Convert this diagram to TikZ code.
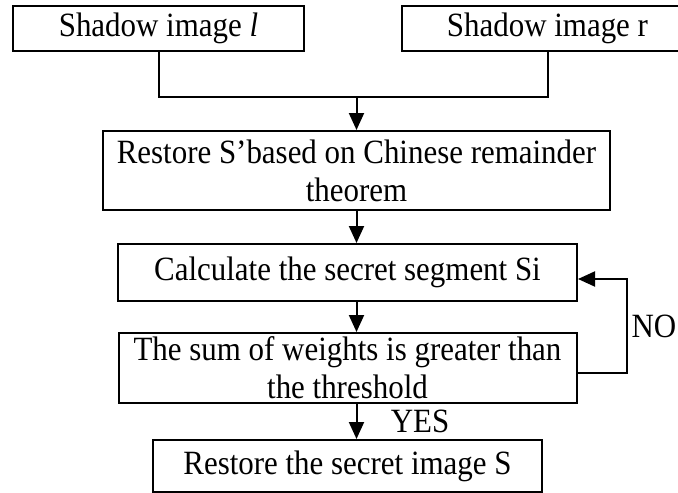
\documentclass[tikz,border=0pt]{standalone}
\usepackage{fontspec}
\setmainfont[FakeStretch=0.91]{Liberation Serif}
\usetikzlibrary{arrows.meta,positioning}

\begin{document}
\begin{tikzpicture}[x=1pt, y=-1pt, font=\fontsize{34}{38}\selectfont, line width=2pt]
\tikzstyle{box} = [rectangle, draw, align=center, inner sep=0pt]
\tikzstyle{arrow} = [-{Triangle[length=17pt,width=15pt]}]

\useasboundingbox (0,0) rectangle (678,493);

% Shadow images
\node [box, minimum width=291pt, minimum height=45pt] (shadowL) at (158.5,28.5) {Shadow image \textit{l}};
\node [box, minimum width=291pt, minimum height=45pt, right=96pt of shadowL] (shadowR) {Shadow image r};

% Recovery steps
\node [box, minimum width=507pt, minimum height=79pt] (restorePrime) at (356.5,170.5) {Restore S’based on Chinese remainder\\theorem};
\node [box, minimum width=459pt, minimum height=57pt, below=32pt of restorePrime, xshift=-9pt] (calcSegment) {Calculate the secret segment Si};
\node [box, minimum width=458pt, minimum height=70pt, below=30pt of calcSegment] (weightSum) {The sum of weights is greater than\\the threshold};
\node [box, minimum width=389pt, minimum height=52pt, below=35pt of weightSum] (restoreSecret) {Restore the secret image S};

% Connectors
\coordinate [above=33pt of restorePrime] (merge);
\draw (shadowL.south) |- (merge) -| (shadowR.south);
\draw [arrow] (merge) -- (restorePrime.north);
\draw [arrow] (restorePrime.south) -- (restorePrime.south |- calcSegment.north);
\draw [arrow] (calcSegment.south -| restorePrime.south) -- (restorePrime.south |- weightSum.north);
\draw [arrow] (weightSum.south -| restorePrime.south) -- (restorePrime.south |- restoreSecret.north) node [midway, right, xshift=30pt] {YES};
\draw [arrow] ([yshift=-5pt]weightSum.east) -- ++(49pt,0) |- ([yshift=-6.5pt]calcSegment.east) node [pos=0.25, right, inner sep=4pt] {NO};

\end{tikzpicture}
\end{document}
